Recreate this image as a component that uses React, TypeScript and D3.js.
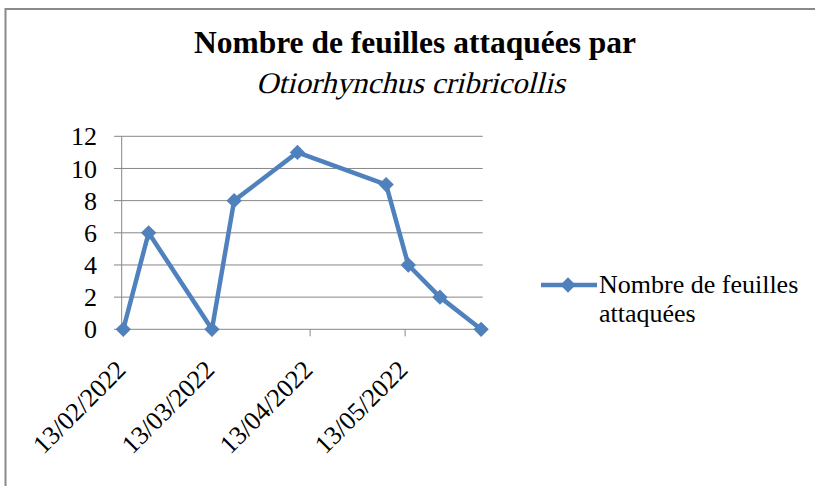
import React from "react";
import * as d3 from "d3";

const dates = ["2022-02-13", "2022-02-21", "2022-03-13", "2022-03-20", "2022-04-09", "2022-05-07", "2022-05-14", "2022-05-24", "2022-06-06"];
const values = [0, 6, 0, 8, 11, 9, 4, 2, 0];
const tickDates = ["2022-02-13", "2022-03-13", "2022-04-13", "2022-05-13"];
const yTicks = [0, 2, 4, 6, 8, 10, 12];
const titleLine1 = "Nombre de feuilles attaquées par";
const titleLine2 = "Otiorhynchus cribricollis";
const seriesName = ["Nombre de feuilles", "attaquées"];

const W = 815;
const H = 486;
const BLUE = "#4F81BD";
const GRID = "#868686";
const FONT = "'Liberation Serif', 'Times New Roman', serif";
const DAY = 86400000;

export default function App() {
  const parse = (s: string) => new Date(s + "T00:00:00Z");
  const d0 = parse(dates[0]).getTime() - DAY / 2;
  const d1 = parse(dates[dates.length - 1]).getTime() + DAY / 2;
  const x = d3.scaleUtc().domain([new Date(d0), new Date(d1)]).range([121.7, 482.7]);
  const y = d3.scaleLinear().domain([0, 12]).range([329.3, 136.3]);
  const fmt = d3.utcFormat("%d/%m/%Y");
  const pts = dates.map((d, i) => [x(parse(d)), y(values[i])] as [number, number]);
  const line = d3.line()(pts) || "";
  const diamond = d3.symbol().type(d3.symbolDiamond2).size(150)() || "";
  const [x0, x1] = x.range();

  return (
    <svg width={W} height={H} style={{ position: "absolute", left: 0, top: 0, background: "#fff" }}>
      <rect x={0} y={0} width={W} height={H} fill="#fff" />
      <rect x={5.5} y={9} width={W + 20} height={H + 20} fill="none" stroke="#8a8a8a" strokeWidth={2} />
      <text x={415} y={53} textAnchor="middle" fontFamily={FONT} fontWeight="bold" fontSize={31.5} fill="#000">
        {titleLine1}
      </text>
      <text
        transform="translate(256,93) skewX(-14)"
        textLength={309}
        lengthAdjust="spacingAndGlyphs"
        fontFamily={FONT}
        fontSize={30}
        fill="#000"
      >
        {titleLine2}
      </text>
      {yTicks.map((t) => (
        <g key={t}>
          <line x1={114} x2={x1} y1={y(t)} y2={y(t)} stroke={GRID} strokeWidth={1} />
          <text x={97} y={y(t)} dy="0.35em" textAnchor="end" fontFamily={FONT} fontSize={26} fill="#000">
            {t}
          </text>
        </g>
      ))}
      <line x1={x0} x2={x0} y1={y(12)} y2={y(0)} stroke={GRID} strokeWidth={1} />
      {tickDates.map((d) => {
        const tx = x(parse(d));
        return (
          <g key={d}>
            <line x1={tx} x2={tx} y1={y(0)} y2={y(0) + 7} stroke={GRID} strokeWidth={1} />
            <text
              transform={`translate(${tx + 4},${y(0) + 42}) rotate(-45)`}
              textAnchor="end"
              fontFamily={FONT}
              fontSize={26}
              fill="#000"
            >
              {fmt(parse(d))}
            </text>
          </g>
        );
      })}
      <path d={line} fill="none" stroke={BLUE} strokeWidth={4.5} strokeLinejoin="round" />
      {pts.map((p, i) => (
        <path key={i} d={diamond} transform={`translate(${p[0]},${p[1]})`} fill={BLUE} />
      ))}
      <line x1={541} x2={597} y1={285} y2={285} stroke={BLUE} strokeWidth={4.5} />
      <path d={diamond} transform="translate(568,285)" fill={BLUE} />
      <text x={599} y={293.3} fontFamily={FONT} fontSize={26} fill="#000">
        {seriesName[0]}
      </text>
      <text x={599} y={321.7} fontFamily={FONT} fontSize={26} fill="#000">
        {seriesName[1]}
      </text>
    </svg>
  );
}
